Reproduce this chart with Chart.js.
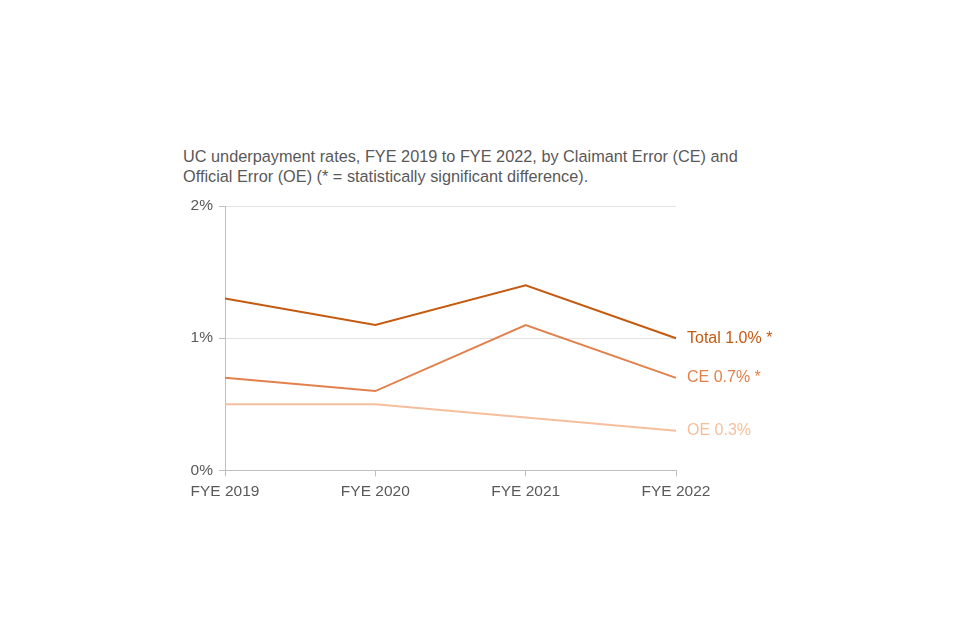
<!DOCTYPE html>
<html>
<head>
<meta charset="utf-8">
<script src="https://cdn.jsdelivr.net/npm/chart.js@4"></script>
<style>
  body { margin: 0; background: #fff; }
  #wrap { position: relative; width: 960px; height: 640px; }
  #title {
    position: absolute; left: 183px; top: 146px;
    font-family: "Liberation Sans", Arial, sans-serif; font-size: 16.3px;
    line-height: 20px; color: #595959;
  }
  canvas { position: absolute; left: 0; top: 0; }
</style>
</head>
<body>
<div id="wrap">
  <div id="title">UC underpayment rates, FYE 2019 to FYE 2022, by Claimant Error (CE) and<br>Official Error (OE) (* = statistically significant difference).</div>
  <canvas id="chart" width="960" height="640"></canvas>
</div>
<script>
// data (percent)
const years = ['FYE 2019', 'FYE 2020', 'FYE 2021', 'FYE 2022'];
const total = [1.3, 1.1, 1.4, 1.0];
const ce = [0.7, 0.6, 1.1, 0.7];
const oe = [0.5, 0.5, 0.4, 0.3];
const endLabels = ['Total 1.0% *', 'CE 0.7% *', 'OE 0.3%'];

const fontFamily = '"Liberation Sans", Arial, sans-serif';
const grey = '#595959';

// labels at the end of each line
const endLabelPlugin = {
    id: 'endLabels',
    afterDatasetsDraw(chart) {
        const ctx = chart.ctx;
        ctx.save();
        ctx.font = '16px ' + fontFamily;
        ctx.textBaseline = 'middle';
        ctx.textAlign = 'left';
        chart.data.datasets.forEach((ds, i) => {
            const meta = chart.getDatasetMeta(i);
            const pt = meta.data[meta.data.length - 1];
            ctx.fillStyle = ds.borderColor;
            ctx.fillText(endLabels[i], pt.x + 11, pt.y);
        });
        ctx.restore();
    }
};

const makeSet = (label, data, color) => ({
    label: label,
    data: data,
    borderColor: color,
    backgroundColor: color,
    borderWidth: 2,
    pointRadius: 0,
    tension: 0,
    fill: false
});

new Chart(document.getElementById('chart').getContext('2d'), {
    type: 'line',
    data: {
        labels: years,
        datasets: [
            makeSet('Total', total, '#C55A11'),
            makeSet('CE', ce, '#E2804B'),
            makeSet('OE', oe, '#F5BF9E')
        ]
    },
    options: {
        responsive: false,
        animation: false,
        layout: { padding: { left: 170, right: 284, top: 206, bottom: 133 } },
        plugins: {
            legend: { display: false },
            tooltip: { enabled: false }
        },
        scales: {
            x: {
                offset: false,
                grid: { drawOnChartArea: false, drawTicks: true, tickLength: 6, color: '#bfbfbf' },
                border: { color: '#bfbfbf', width: 1 },
                ticks: { color: grey, font: { family: fontFamily, size: 15.5 }, padding: 6, maxRotation: 0 }
            },
            y: {
                min: 0,
                max: 2,
                grid: { color: '#e3e3e3', tickLength: 6, tickColor: '#bfbfbf' },
                border: { color: '#bfbfbf', width: 1 },
                ticks: {
                    stepSize: 1,
                    color: grey,
                    font: { family: fontFamily, size: 15.5 },
                    padding: 6,
                    callback: v => v + '%'
                },
                afterFit: s => { s.width = 55; }
            }
        }
    },
    plugins: [endLabelPlugin]
});
</script>
</body>
</html>
